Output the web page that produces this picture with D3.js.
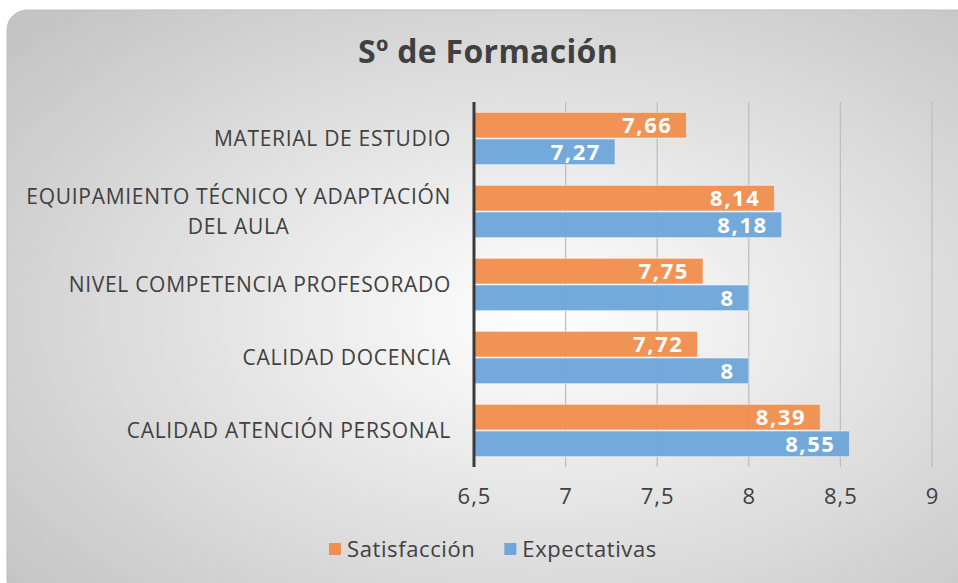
<!DOCTYPE html>
<html>
<head>
<meta charset="utf-8">
<script src="https://cdn.jsdelivr.net/npm/d3@7"></script>
<style>
  body { margin: 0; background: #fff; }
  text { font-family: "Open Sans", sans-serif; }
</style>
</head>
<body>
<section></section>
<script>
const categories = [
  "MATERIAL DE ESTUDIO",
  "EQUIPAMIENTO TÉCNICO Y ADAPTACIÓN\nDEL AULA",
  "NIVEL COMPETENCIA PROFESORADO",
  "CALIDAD DOCENCIA",
  "CALIDAD ATENCIÓN PERSONAL"
];
const seriesNames = ["Satisfacción", "Expectativas"];
const satisfaccion = [7.66, 8.14, 7.75, 7.72, 8.39];
const expectativas = [7.27, 8.18, 8, 8, 8.55];
const ticks = [6.5, 7, 7.5, 8, 8.5, 9];

const WIDTH = 958;
const HEIGHT = 583;
const COLORS = ["#EF8F50", "#6FA7DA"];
const TXT = "#404040";

const svg = d3.select("section")
  .append("svg")
  .attr("width", WIDTH)
  .attr("height", HEIGHT);

// card background with radial gradient
const grad = svg.append("defs").append("radialGradient")
  .attr("id", "bg")
  .attr("cx", "55%").attr("cy", "52%").attr("r", "72%");
grad.append("stop").attr("offset", "0%").attr("stop-color", "#ffffff");
grad.append("stop").attr("offset", "100%").attr("stop-color", "#c4c4c4");

svg.append("rect")
  .attr("x", 7).attr("y", 10)
  .attr("width", 970).attr("height", 590)
  .attr("rx", 20)
  .attr("fill", "url(#bg)")
  .attr("stroke", "#bdbdbd")
  .attr("stroke-width", 1);

svg.append("text")
  .attr("x", 488).attr("y", 63)
  .attr("text-anchor", "middle")
  .attr("font-size", 32).attr("font-weight", "bold")
  .attr("letter-spacing", 0.3)
  .attr("fill", TXT)
  .text("Sº de Formación");

const x = d3.scaleLinear().domain([6.5, 9]).range([474, 932]);
const y = d3.scaleBand().domain(d3.range(categories.length)).range([102, 467]).paddingInner(0.27).paddingOuter(0.135);
const ySub = d3.scaleBand().domain([0, 1]).range([0, y.bandwidth()]);

// gridlines
svg.append("g")
  .selectAll("line")
  .data(ticks.slice(1))
  .enter()
  .append("line")
  .attr("x1", d => x(d)).attr("x2", d => x(d))
  .attr("y1", 102).attr("y2", 467)
  .attr("stroke", "#bfbfbf")
  .attr("stroke-width", 1.3);

// bars
const series = [satisfaccion, expectativas];
series.forEach((vals, s) => {
  const g = svg.append("g");
  g.selectAll("rect")
    .data(vals)
    .enter()
    .append("rect")
    .attr("x", x(6.5))
    .attr("y", (d, i) => y(i) + ySub(s) + 0.5)
    .attr("width", d => x(d) - x(6.5))
    .attr("height", ySub.bandwidth() - 1)
    .attr("fill", COLORS[s])
    .attr("fill-opacity", 0.97)
    .attr("stroke", "#ffffff")
    .attr("stroke-opacity", 0.5);
  g.selectAll("text")
    .data(vals)
    .enter()
    .append("text")
    .attr("x", d => x(d) - 14)
    .attr("y", (d, i) => y(i) + ySub(s) + ySub.bandwidth() / 2 + 8)
    .attr("text-anchor", "end")
    .attr("font-size", 22).attr("font-weight", "bold")
    .attr("letter-spacing", 1.6)
    .attr("fill", "#ffffff")
    .text(d => String(d).replace(".", ","));
});

// y axis line
svg.append("line")
  .attr("x1", x(6.5)).attr("x2", x(6.5))
  .attr("y1", 102).attr("y2", 467)
  .attr("stroke", "#3a3a3a")
  .attr("stroke-width", 3);

// x axis labels
const xAxis = d3.axisBottom(x).tickValues(ticks).tickSize(0).tickPadding(0)
  .tickFormat(d => String(d).replace(".", ","));
const xg = svg.append("g")
  .attr("transform", "translate(0,504)")
  .call(xAxis);
xg.select(".domain").remove();
xg.selectAll("text")
  .attr("font-size", 22)
  .attr("font-family", "Open Sans, sans-serif")
  .attr("letter-spacing", 1)
  .attr("fill", TXT)
  .attr("dy", 0);

// category labels
categories.forEach((c, i) => {
  const lines = c.split("\n");
  const cy = y(i) + y.bandwidth() / 2;
  const t = svg.append("text")
    .attr("font-size", 21)
    .attr("letter-spacing", 0.7)
    .attr("fill", TXT);
  lines.forEach(ln => {
    t.append("tspan").text(ln);
  });
  const spans = t.selectAll("tspan");
  if (lines.length === 1) {
    spans.attr("x", 451).attr("y", cy + 7).attr("text-anchor", "end");
  } else {
    let maxW = 0;
    spans.each(function() { maxW = Math.max(maxW, this.getComputedTextLength()); });
    const mid = 451 - maxW / 2;
    spans.attr("x", mid).attr("text-anchor", "middle")
      .attr("y", (d, k) => cy + 7 + (k - (lines.length - 1) / 2) * 30);
  }
});

// legend
const legend = svg.append("g").attr("transform", "translate(329,549)");
let lx = 0;
seriesNames.forEach((n, s) => {
  legend.append("rect")
    .attr("x", lx).attr("y", -6)
    .attr("width", 12).attr("height", 12)
    .attr("fill", COLORS[s]);
  const t = legend.append("text")
    .attr("x", lx + 18).attr("y", 8)
    .attr("font-size", 22)
    .attr("letter-spacing", 0.6)
    .attr("fill", TXT)
    .text(n);
  lx += 18 + t.node().getComputedTextLength() + 29;
});
</script>
</body>
</html>
